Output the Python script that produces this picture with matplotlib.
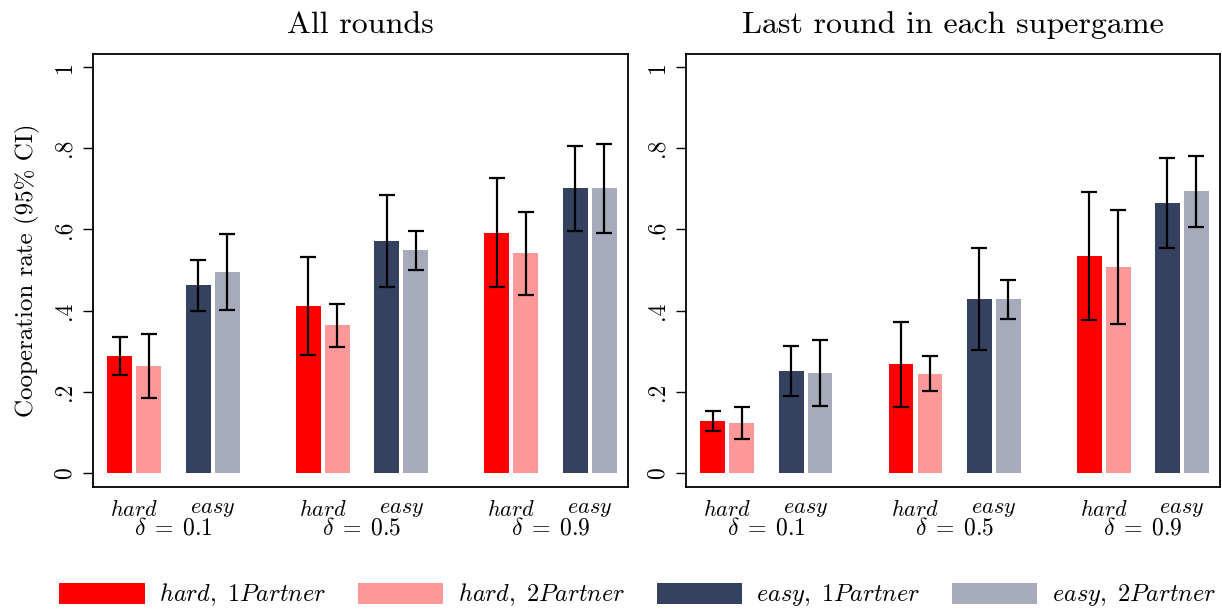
import numpy as np
import matplotlib
matplotlib.use("Agg")
import matplotlib.pyplot as plt
from matplotlib.patches import Patch
import matplotlib.transforms as mtransforms

plt.rcParams['font.family'] = 'serif'
plt.rcParams['font.serif'] = ['cmr10', 'DejaVu Serif']
plt.rcParams['mathtext.fontset'] = 'cm'
plt.rcParams['axes.unicode_minus'] = False
plt.rcParams['axes.formatter.use_mathtext'] = True

# Datos: orden hard-1P, hard-2P, easy-1P, easy-2P para delta = 0.1, 0.5, 0.9
deltas = ['0.1', '0.5', '0.9']
series = ['hard, 1Partner', 'hard, 2Partner', 'easy, 1Partner', 'easy, 2Partner']
colores = ['#FF0000', '#FF9999', '#34425F', '#A5ABBB']

todas_media = [0.288, 0.264, 0.463, 0.495,
               0.411, 0.365, 0.571, 0.549,
               0.591, 0.542, 0.702, 0.702]
todas_lo = [0.241, 0.185, 0.399, 0.401,
            0.291, 0.310, 0.458, 0.500,
            0.458, 0.438, 0.596, 0.591]
todas_hi = [0.335, 0.342, 0.525, 0.589,
            0.532, 0.416, 0.685, 0.596,
            0.727, 0.643, 0.805, 0.810]

ultima_media = [0.128, 0.123, 0.251, 0.246,
                0.268, 0.244, 0.429, 0.429,
                0.534, 0.507, 0.665, 0.695]
ultima_lo = [0.103, 0.084, 0.190, 0.165,
             0.163, 0.202, 0.303, 0.379,
             0.377, 0.367, 0.554, 0.606]
ultima_hi = [0.153, 0.163, 0.313, 0.328,
             0.372, 0.288, 0.554, 0.475,
             0.692, 0.648, 0.776, 0.781]

# Posiciones de las barras
offs = np.array([0, 1, 2.7, 3.7])
pos = np.concatenate([offs + 6.5 * g for g in range(3)])
ancho = 0.86

fig = plt.figure(figsize=(12.22, 6.09), dpi=100)
ax1 = fig.add_axes([93 / 1222, 122 / 609, 535 / 1222, 433 / 609])
ax2 = fig.add_axes([686 / 1222, 122 / 609, 534 / 1222, 433 / 609])


def dibujar(ax, media, lo, hi, titulo):
    media = np.array(media)
    cols = [colores[i % 4] for i in range(12)]
    ax.bar(pos, media, width=ancho, color=cols, zorder=2)
    err = np.vstack([media - np.array(lo), np.array(hi) - media])
    ax.errorbar(pos, media, yerr=err, fmt='none', ecolor='black',
                elinewidth=1.6, capsize=6, capthick=1.6, zorder=3)
    ax.set_xlim(-0.93, 17.52)
    ax.set_ylim(-0.034, 1.032)
    ax.set_yticks([0, 0.2, 0.4, 0.6, 0.8, 1])
    ax.set_yticklabels(['0', '.2', '.4', '.6', '.8', '1'], rotation=90,
                       va='center', fontsize=17)
    ax.tick_params(axis='y', length=7.5, width=1, pad=5)
    ax.set_xticks([])
    for s in ax.spines.values():
        s.set_linewidth(1.3)
    ax.set_title(titulo, fontsize=23, pad=15)
    trans = mtransforms.blended_transform_factory(ax.transData, ax.transAxes)
    for g in range(3):
        base = 6.5 * g
        ax.text(base + 0.5, -0.028, r'$\mathit{hard}$', transform=trans,
                ha='center', va='top', fontsize=16)
        ax.text(base + 3.2, -0.028, r'$\mathit{easy}$', transform=trans,
                ha='center', va='top', fontsize=16)
        ax.text(base + 1.85, -0.07, r'$\delta\;=\;%s$' % deltas[g], transform=trans,
                ha='center', va='top', fontsize=17)


dibujar(ax1, todas_media, todas_lo, todas_hi, 'All rounds')
dibujar(ax2, ultima_media, ultima_lo, ultima_hi, 'Last round in each supergame')
ax1.set_ylabel('Cooperation rate (95% CI)', fontsize=18, labelpad=10)

manejadores = [Patch(facecolor=c, edgecolor='none') for c in colores]
etiquetas = [r'$\mathit{%s}$' % s.replace(' ', r'\ ') for s in series]
fig.legend(manejadores, etiquetas, loc='lower center', ncol=4,
           bbox_to_anchor=(0.522, -0.035), frameon=False, fontsize=17.5,
           handlelength=3.5, handleheight=0.95, handletextpad=0.6,
           columnspacing=1.3)

fig.savefig('out.png', dpi=100)
